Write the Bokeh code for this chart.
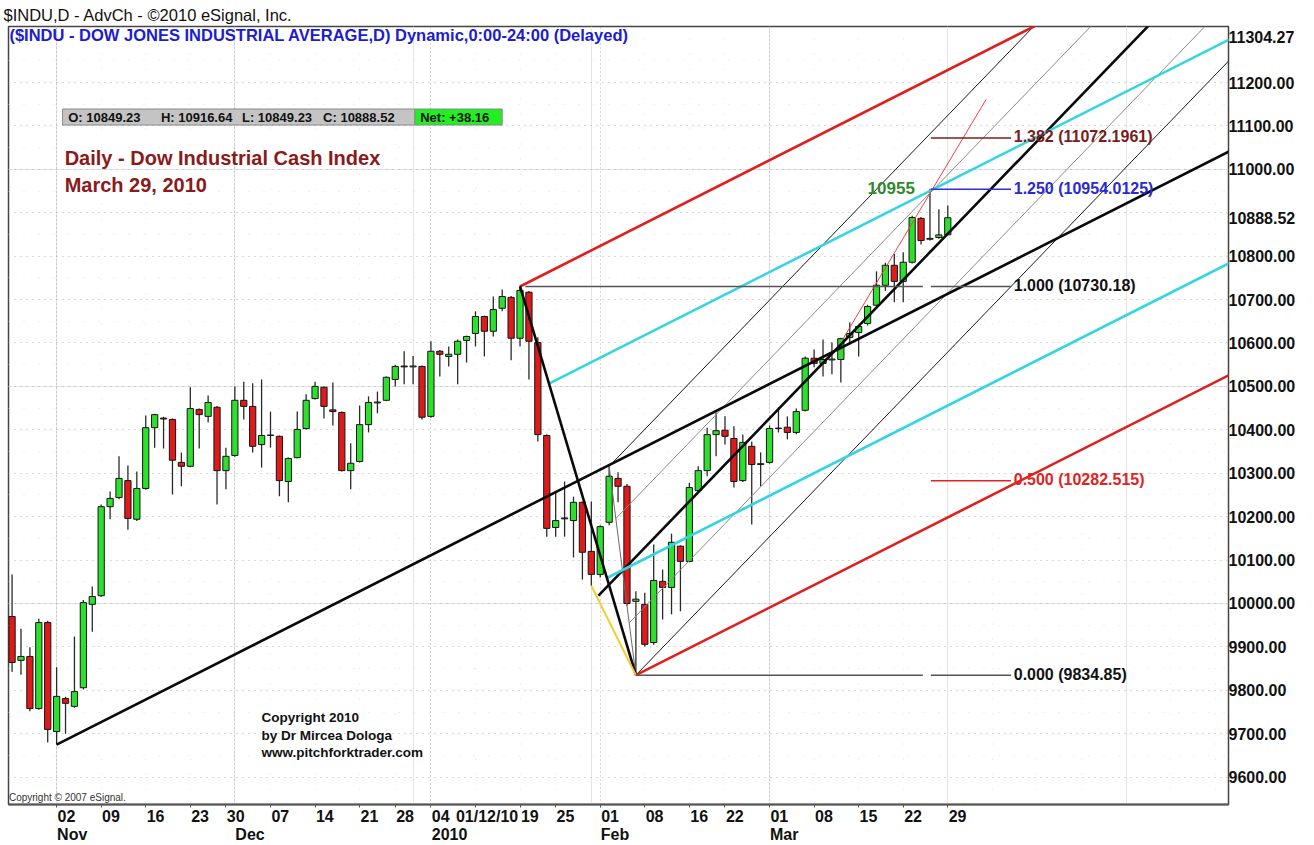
import numpy as np
from bokeh.plotting import figure
from bokeh.models import (ColumnDataSource, Range1d, LinearAxis, FixedTicker,
                          PrintfTickFormatter, Grid)
from bokeh.core.properties import value
from bokeh.embed import file_html
from bokeh.resources import INLINE

FONT = "Liberation Sans"

# ---------------- data ----------------
dates = [
    "2009-10-26", "2009-10-27", "2009-10-28", "2009-10-29", "2009-10-30",
    "2009-11-02", "2009-11-03", "2009-11-04", "2009-11-05", "2009-11-06",
    "2009-11-09", "2009-11-10", "2009-11-11", "2009-11-12", "2009-11-13",
    "2009-11-16", "2009-11-17", "2009-11-18", "2009-11-19", "2009-11-20",
    "2009-11-23", "2009-11-24", "2009-11-25", "2009-11-27",
    "2009-11-30",
    "2009-12-01", "2009-12-02", "2009-12-03", "2009-12-04",
    "2009-12-07", "2009-12-08", "2009-12-09", "2009-12-10", "2009-12-11",
    "2009-12-14", "2009-12-15", "2009-12-16", "2009-12-17", "2009-12-18",
    "2009-12-21", "2009-12-22", "2009-12-23", "2009-12-24",
    "2009-12-28", "2009-12-29", "2009-12-30", "2009-12-31",
    "2010-01-04", "2010-01-05", "2010-01-06", "2010-01-07", "2010-01-08",
    "2010-01-11", "2010-01-12", "2010-01-13", "2010-01-14", "2010-01-15",
    "2010-01-19", "2010-01-20", "2010-01-21", "2010-01-22",
    "2010-01-25", "2010-01-26", "2010-01-27", "2010-01-28", "2010-01-29",
    "2010-02-01", "2010-02-02", "2010-02-03", "2010-02-04", "2010-02-05",
    "2010-02-08", "2010-02-09", "2010-02-10", "2010-02-11", "2010-02-12",
    "2010-02-16", "2010-02-17", "2010-02-18", "2010-02-19",
    "2010-02-22", "2010-02-23", "2010-02-24", "2010-02-25", "2010-02-26",
    "2010-03-01", "2010-03-02", "2010-03-03", "2010-03-04", "2010-03-05",
    "2010-03-08", "2010-03-09", "2010-03-10", "2010-03-11", "2010-03-12",
    "2010-03-15", "2010-03-16", "2010-03-17", "2010-03-18", "2010-03-19",
    "2010-03-22", "2010-03-23", "2010-03-24", "2010-03-25", "2010-03-26",
    "2010-03-29",
]
bar_index = list(range(-5, 101))   # trading-day number, 0 = 2 Nov 2009

opens = [
    9970, 9869, 9878, 9758, 9956,
    9705, 9781, 9763, 9806, 9998,
    10018, 10223, 10244, 10283, 10194,
    10265, 10405, 10427, 10424, 10325,
    10316, 10447, 10431, 10452,
    10306,
    10341, 10468, 10454, 10366,
    10388, 10385, 10281, 10336, 10403,
    10472, 10498, 10446, 10440, 10306,
    10327, 10412, 10462, 10468,
    10516, 10547, 10545, 10546,
    10431, 10581, 10569, 10574, 10606,
    10622, 10661, 10627, 10680, 10705,
    10611, 10717, 10601, 10387,
    10175, 10197, 10191, 10233, 10120,
    10067, 10187, 10288, 10270, 10005,
    9998, 9910, 10051, 10037, 10132,
    10097, 10260, 10306, 10389,
    10399, 10380, 10283, 10362, 10322,
    10325, 10404, 10406, 10394, 10445,
    10565, 10553, 10561, 10562, 10613,
    10624, 10645, 10687, 10733, 10779,
    10742, 10786, 10887, 10839, 10843,
    10849.23,
]
highs = [
    10067, 9942, 9899, 9965, 9960,
    9853, 9785, 9924, 10008, 10039,
    10228, 10258, 10339, 10318, 10304,
    10433, 10437, 10430, 10426, 10348,
    10498, 10449, 10479, 10455,
    10359,
    10500, 10511, 10507, 10516,
    10442, 10387, 10336, 10442, 10482,
    10511, 10500, 10509, 10442, 10369,
    10456, 10477, 10488, 10523,
    10550, 10581, 10570, 10548,
    10604, 10584, 10592, 10608, 10617,
    10673, 10663, 10707, 10723, 10708,
    10730, 10720, 10613, 10390,
    10256, 10281, 10246, 10235, 10235,
    10180, 10316, 10302, 10275, 10028,
    10025, 10136, 10078, 10161, 10134,
    10278, 10316, 10405, 10440,
    10431, 10408, 10389, 10373, 10348,
    10410, 10452, 10431, 10449, 10569,
    10585, 10608, 10601, 10612, 10647,
    10640, 10688, 10765, 10785, 10805,
    10809, 10893, 10890, 10955, 10908,
    10916.64,
]
lows = [
    9843, 9836, 9752, 9755, 9680,
    9675, 9700, 9760, 9802, 9935,
    10015, 10194, 10240, 10170, 10190,
    10262, 10359, 10357, 10251, 10270,
    10314, 10357, 10417, 10228,
    10263,
    10338, 10424, 10348, 10313,
    10359, 10247, 10233, 10334, 10400,
    10470, 10426, 10410, 10304, 10263,
    10325, 10394, 10438, 10466,
    10500, 10505, 10505, 10424,
    10428, 10523, 10546, 10505, 10555,
    10592, 10569, 10615, 10673, 10560,
    10592, 10516, 10373, 10154,
    10154, 10154, 10106, 10055, 10041,
    10060, 10180, 10233, 9995, 9834.85,
    9901, 9905, 9963, 9975, 9982,
    10095, 10255, 10293, 10339,
    10366, 10267, 10280, 10182, 10270,
    10322, 10394, 10378, 10390, 10442,
    10544, 10523, 10528, 10509, 10597,
    10569, 10640, 10685, 10720, 10694,
    10694, 10783, 10827, 10836, 10840,
    10849.23,
]
closes = [
    9864, 9878, 9758, 9956, 9710,
    9786, 9770, 9797, 10002, 10016,
    10223, 10242, 10288, 10196, 10265,
    10405, 10435, 10425, 10330, 10316,
    10449, 10435, 10463, 10306,
    10339,
    10468, 10454, 10362, 10387,
    10387, 10283, 10334, 10401, 10468,
    10500, 10454, 10442, 10306, 10323,
    10412, 10463, 10464, 10521,
    10546, 10545, 10547, 10429,
    10581, 10574, 10574, 10604, 10615,
    10661, 10627, 10677, 10707, 10611,
    10721, 10604, 10389, 10173,
    10191, 10195, 10233, 10118, 10067,
    10177, 10293, 10270, 10000, 10010,
    9906, 10053, 10037, 10141, 10097,
    10267, 10306, 10389, 10398,
    10385, 10281, 10371, 10320, 10320,
    10403, 10403, 10394, 10442, 10565,
    10553, 10562, 10563, 10610, 10622,
    10638, 10684, 10733, 10779, 10742,
    10786, 10889, 10836, 10841, 10849,
    10888.52,
]

# axis ticks / labels
price_ticks = [9600, 9700, 9800, 9900, 10000, 10100, 10200, 10300, 10400, 10500,
               10600, 10700, 10800, 10900, 11000, 11100, 11200]
axis_top_value = 11304.27
last_close = 10888.52
day_ticks = [0, 5, 10, 15, 19, 24, 29, 34, 38, 42, 47, 52, 56, 61, 66, 71, 75, 80, 85, 90, 95, 100]
day_labels = ["02", "09", "16", "23", "30", "07", "14", "21", "28", "04", "", "19", "25",
              "01", "08", "16", "22", "01", "08", "15", "22", "29"]
month_ticks = [0, 20, 42, 61, 80]
month_labels = ["Nov", "Dec", "2010", "Feb", "Mar"]
week_ticks = [5, 10, 15, 24, 29, 34, 38, 47, 52, 56, 66, 71, 75, 85, 90, 95, 100, 105, 110,
              115, 120, 125, 130]
cursor_pos = 48.3        # cursor read-out centred near 12 Jan 2010
cursor_text = "01/12/10"

# pitchfork pivots (bar index, price)
fork1_idx = [0, 52, 65]
fork1_px = [9675.0, 10730.18, 9834.85]
fork2_idx = [60.8, 62, 65]
fork2_px = [10018.0, 10316.0, 9834.85]
yellow_idx = [60, 65]
yellow_px = [10041.0, 9834.85]
trend_idx = [88.2, 104.3]
trend_px = [10608.0, 11161.0]

fib_ratio = [0.0, 0.5, 1.0, 1.25, 1.382]
fib_text = ["0.000 (9834.85)", "0.500 (10282.515)", "1.000 (10730.18)",
            "1.250 (10954.0125)", "1.382 (11072.1961)"]
fib_line_color = ["#555555", "#e02424", "#555555", "#2f2fe0", "#7a2020"]
fib_text_color = ["#111111", "#e02424", "#111111", "#2a2ad0", "#7a1c1c"]

last_ohlc = ["O: 10849.23", "H: 10916.64", "L: 10849.23", "C: 10888.52"]
net_text = "Net: +38.16"

# ---------------- figure ----------------
X0, X1 = -5.4, 131.5
Y0, Y1 = 9537.0, 11329.0
p = figure(width=1314, height=845, frame_width=1220, frame_height=778,
           x_range=Range1d(X0, X1), y_range=Range1d(Y0, Y1),
           output_backend="svg", toolbar_location=None, x_axis_location=None,
           y_axis_location=None, min_border_left=8, min_border_right=86,
           min_border_top=0, min_border_bottom=0,
           title="$INDU,D - AdvCh - \u00a92010 eSignal, Inc.")
p.title.text_font = FONT
p.title.text_font_size = "16.5px"
p.title.text_font_style = "normal"
p.title.text_color = "#111111"
p.title.offset = -5
p.title.standoff = 6
p.outline_line_color = "#444444"
p.outline_line_width = 1.5
p.background_fill_color = "white"
p.border_fill_color = "white"

# grids
p.add_layout(Grid(dimension=1, ticker=FixedTicker(ticks=[t + 50 for t in price_ticks]),
                  grid_line_color="#e2e2e2", grid_line_dash="1 14"))
p.add_layout(Grid(dimension=0, ticker=FixedTicker(ticks=week_ticks),
                  grid_line_color="#e2e2e2", grid_line_dash="1 14"))
p.add_layout(Grid(dimension=1, ticker=FixedTicker(ticks=price_ticks),
                  grid_line_color="#b0b0b0", grid_line_dash="1 5"))
p.add_layout(Grid(dimension=0, ticker=FixedTicker(ticks=month_ticks),
                  grid_line_color="#b0b0b0", grid_line_dash="1 3"))

# right price axis (last close replaces the hidden 10900 label, top value added)
y_ticks = [t for t in price_ticks if t != 10900] + [last_close, axis_top_value]
y_over = {t: "%.2f" % t for t in y_ticks}
yax = LinearAxis(ticker=FixedTicker(ticks=y_ticks), major_label_overrides=y_over,
                 formatter=PrintfTickFormatter(format="%.2f"),
                 axis_line_color=None, major_tick_line_color=None, minor_tick_line_color=None,
                 major_tick_out=0, major_tick_in=0,
                 major_label_standoff=0, major_label_text_font=FONT,
                 major_label_text_font_size="16px", major_label_text_font_style="bold",
                 major_label_text_color="#111111")
p.add_layout(yax, "right")

# day axis: labels sit just right of their tick (tick marks drawn as minor ticks)
DAY_SHIFT = 1.1
day_pos = [t + DAY_SHIFT for t in day_ticks] + [cursor_pos]
day_text = day_labels + [cursor_text]
xax = LinearAxis(ticker=FixedTicker(ticks=day_pos, minor_ticks=day_ticks),
                 major_label_overrides={t: s for t, s in zip(day_pos, day_text)},
                 axis_line_color="#555555", axis_line_width=2,
                 major_tick_line_color=None, major_tick_out=0, major_tick_in=0,
                 minor_tick_line_color="#555555", minor_tick_out=3, minor_tick_in=0,
                 major_label_standoff=0,
                 major_label_text_font=FONT, major_label_text_font_size="16px",
                 major_label_text_font_style="bold", major_label_text_color="#111111")
p.add_layout(xax, "below")
month_shift = [1.75, 1.7, 2.1, 1.65, 1.65]
month_pos = [t + s for t, s in zip(month_ticks, month_shift)]
max_ = LinearAxis(ticker=FixedTicker(ticks=month_pos),
                  major_label_overrides={t: s for t, s in zip(month_pos, month_labels)},
                  axis_line_color=None, major_tick_line_color=None, minor_tick_line_color=None,
                  major_tick_out=0, major_tick_in=0,
                  major_label_standoff=-2,
                  major_label_text_font=FONT, major_label_text_font_size="16px",
                  major_label_text_font_style="bold", major_label_text_color="#111111")
p.add_layout(max_, "below")

# ---------------- candles ----------------
o = np.array(opens, float); h = np.array(highs, float)
l = np.array(lows, float); c = np.array(closes, float)
src = ColumnDataSource(dict(
    i=bar_index, date=dates, h=h, l=l,
    top=np.maximum(o, c), bottom=np.minimum(o, c),
    color=["#2ee02e" if cc >= oo else "#de1a1a" for oo, cc in zip(o, c)],
))
p.segment(x0="i", y0="h", x1="i", y1="l", source=src, line_color="#2a2a2a", line_width=1.3)
p.vbar(x="i", width=0.7, top="top", bottom="bottom", fill_color="color",
       line_color="#151515", line_width=1, source=src)

# ---------------- pitchforks ----------------
X_END = 140.0


def ray(x0, y0, s):
    return [x0, X_END], [y0, y0 + s * (X_END - x0)]


def fork(idx, px):
    a = np.array([idx[0], px[0]]); b = np.array([idx[1], px[1]]); cc = np.array([idx[2], px[2]])
    mid = (b + cc) / 2
    s = (mid[1] - a[1]) / (mid[0] - a[0])
    q1 = b + 0.25 * (cc - b)
    q3 = b + 0.75 * (cc - b)
    return a, b, cc, s, q1, q3


a1, b1, c1, s1, q11, q13 = fork(fork1_idx, fork1_px)
a2, b2, c2, s2, q21, q23 = fork(fork2_idx, fork2_px)

# fork 2 (steep)
for q in (q21, q23):
    xs, ys = ray(q[0], q[1], s2)
    p.line(xs, ys, line_color="#8a8a8a", line_width=1)
p.line([b2[0], c2[0]], [b2[1], c2[1]], line_color="#6a6a6a", line_width=1)
for q in (b2, c2):
    xs, ys = ray(q[0], q[1], s2)
    p.line(xs, ys, line_color="#1a1a1a", line_width=1)
xs, ys = ray(a2[0], a2[1], s2)
p.line(xs, ys, line_color="#0a0a0a", line_width=2.6)

# fork 1 (main)
for q in (q11, q13):
    xs, ys = ray(q[0], q[1], s1)
    p.line(xs, ys, line_color="#33d6e0", line_width=2.6)
for q in (b1, c1):
    xs, ys = ray(q[0], q[1], s1)
    p.line(xs, ys, line_color="#e01e1e", line_width=2.6)
xs, ys = ray(a1[0], a1[1], s1)
p.line(xs, ys, line_color="#0a0a0a", line_width=2.6)
p.line([b1[0], c1[0]], [b1[1], c1[1]], line_color="#0a0a0a", line_width=2.6)

p.line(yellow_idx, yellow_px, line_color="#f0d030", line_width=2)
p.line(trend_idx, trend_px, line_color="#f04040", line_width=1)

# ---------------- fibonacci levels ----------------
fib_val = [c1[1] + r * (b1[1] - c1[1]) for r in fib_ratio]
for v, col in zip(fib_val, fib_line_color):
    p.line([98.1, 107.1], [v, v], line_color=col, line_width=1.5)
p.line([c1[0], 97.2], [fib_val[0], fib_val[0]], line_color=fib_line_color[0], line_width=1.5)
p.line([b1[0] + 0.6, 97.2], [fib_val[2], fib_val[2]], line_color=fib_line_color[2], line_width=1.5)
p.text(x=[107.4] * 5, y=fib_val, text=fib_text, text_color=fib_text_color,
       text_font=value(FONT), text_font_size="16px", text_font_style="bold",
       text_baseline="alphabetic", text_align="left", y_offset=-1)

p.text(x=[91.0], y=[10957], text=["10955"], text_color="#2e8a2e", text_font=value(FONT),
       text_font_size="17px", text_font_style="bold", text_baseline="alphabetic")

# ---------------- annotations inside chart ----------------
p.text(x=[-5.3], y=[11308.5],
       text=["($INDU - DOW JONES INDUSTRIAL AVERAGE,D) Dynamic,0:00-24:00 (Delayed)"],
       text_color="#1c1cd0", text_font=value(FONT), text_font_size="16.5px",
       text_font_style="bold", text_baseline="middle")

# info bar
p.quad(left=[0.67], right=[40.2], top=[11139], bottom=[11102], fill_color="#c4c4c4",
       line_color="#8a8a8a")
p.quad(left=[40.2], right=[50.0], top=[11139], bottom=[11102], fill_color="#22ee22",
       line_color="#8a8a8a")
p.text(x=[1.3, 11.7, 20.8, 29.9], y=[11120.5] * 4, text=last_ohlc, text_color="#111111",
       text_font=value(FONT), text_font_size="13px", text_font_style="bold",
       text_baseline="middle")
p.text(x=[40.8], y=[11120.5], text=[net_text], text_color="#111111",
       text_font=value(FONT), text_font_size="13px", text_font_style="bold",
       text_baseline="middle")

p.text(x=[0.9, 0.9], y=[11025, 10965], text=["Daily - Dow Industrial Cash Index", "March 29, 2010"],
       text_color="#8b1a1a", text_font=value(FONT), text_font_size="20px",
       text_font_style="bold", text_baseline="middle")

p.text(x=[23.0] * 3, y=[9737, 9696, 9657],
       text=["Copyright 2010", "by Dr Mircea Dologa", "www.pitchforktrader.com"],
       text_color="#111111", text_font=value(FONT), text_font_size="13.5px",
       text_font_style="bold", text_baseline="middle")

p.text(x=[-5.35], y=[9553], text=["Copyright \u00a9 2007 eSignal."], text_color="#333333",
       text_font=value(FONT), text_font_size="10px", text_baseline="middle")

open("out.html", "w").write(file_html(p, INLINE))
